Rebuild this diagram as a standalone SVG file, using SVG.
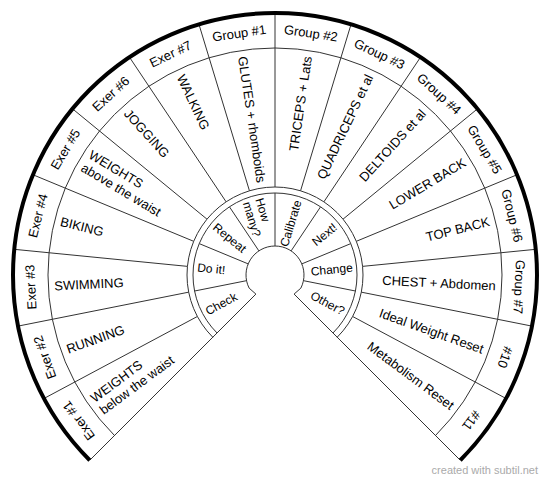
<svg xmlns="http://www.w3.org/2000/svg" width="550" height="482" viewBox="0 0 550 482">
<style>
.ln{stroke:#333;stroke-width:1;fill:none}
.rim{stroke:#000;stroke-width:4;fill:none}
text{font-family:"Liberation Sans",Arial,sans-serif;font-size:13px;fill:#000}
.ti{font-size:12px}
.o{text-anchor:middle}
.s{text-anchor:start}
.e{text-anchor:end}
.credit{font-size:11px;fill:#aaa;text-anchor:end}
</style>
<rect width="550" height="482" fill="#fff"/>
<g id="structure">
<path class="ln" d="M114.49 435.51 A227 227 0 1 1 435.51 435.51"/>
<path class="ln" d="M212.77 337.23 A88 88 0 1 1 337.23 337.23"/>
<path class="ln" d="M217.02 332.98 A82 82 0 1 1 332.98 332.98"/>
<path class="ln" d="M255.91 294.09 L249.16 288.17 A29 29 0 1 1 300.84 288.17 L294.09 294.09"/>
<path class="ln" d="M255.91 294.09 L89.74 460.26 M294.09 294.09 L460.26 460.26"/>
<g id="main-dividers">
<path class="ln" d="M275 187 L275 13"/>
<path class="ln" d="M300.55 190.79 L351.05 24.28 M249.45 190.79 L198.95 24.28"/>
<path class="ln" d="M323.89 201.83 L420.56 57.15 M226.11 201.83 L129.44 57.15"/>
<path class="ln" d="M343.02 219.17 L477.53 108.79 M206.98 219.17 L72.47 108.79"/>
<path class="ln" d="M356.30 241.32 L517.06 174.74 M193.70 241.32 L32.94 174.74"/>
<path class="ln" d="M362.58 266.37 L535.74 249.32 M187.42 266.37 L14.26 249.32"/>
<path class="ln" d="M361.31 292.17 L531.97 326.11 M188.69 292.17 L18.03 326.11"/>
<path class="ln" d="M352.61 316.48 L506.06 398.51 M197.39 316.48 L43.94 398.51"/>
</g>
<g id="inner-dividers">
<path class="ln" d="M275 246 L275 193"/>
<path class="ln" d="M291.11 250.89 L320.56 206.82 M258.89 250.89 L229.44 206.82"/>
<path class="ln" d="M301.79 263.90 L350.76 243.62 M248.21 263.90 L199.24 243.62"/>
<path class="ln" d="M303.44 280.66 L355.42 291.00 M246.56 280.66 L194.58 291.00"/>
</g>
<path class="rim" d="M89.74 460.26 A262 262 0 1 1 460.26 460.26"/>
</g>
<g id="outer-labels">
<g id="exer1"><text class="o" x="275" y="30.5" dy="0.35em" transform="rotate(-126.5625 275 275)">Exer #1</text></g>
<g id="exer2"><text class="o" x="275" y="30.5" dy="0.35em" transform="rotate(-109.6875 275 275)">Exer #2</text></g>
<g id="exer3"><text class="o" x="275" y="30.5" dy="0.35em" transform="rotate(-92.8125 275 275)">Exer #3</text></g>
<g id="exer4"><text class="o" x="275" y="30.5" dy="0.35em" transform="rotate(-75.9375 275 275)">Exer #4</text></g>
<g id="exer5"><text class="o" x="275" y="30.5" dy="0.35em" transform="rotate(-59.0625 275 275)">Exer #5</text></g>
<g id="exer6"><text class="o" x="275" y="30.5" dy="0.35em" transform="rotate(-42.1875 275 275)">Exer #6</text></g>
<g id="exer7"><text class="o" x="275" y="30.5" dy="0.35em" transform="rotate(-25.3125 275 275)">Exer #7</text></g>
<g id="group1"><text class="o" x="275" y="30.5" dy="0.35em" transform="rotate(-8.4375 275 275)">Group #1</text></g>
<g id="group2"><text class="o" x="275" y="30.5" dy="0.35em" transform="rotate(8.4375 275 275)">Group #2</text></g>
<g id="group3"><text class="o" x="275" y="30.5" dy="0.35em" transform="rotate(25.3125 275 275)">Group #3</text></g>
<g id="group4"><text class="o" x="275" y="30.5" dy="0.35em" transform="rotate(42.1875 275 275)">Group #4</text></g>
<g id="group5"><text class="o" x="275" y="30.5" dy="0.35em" transform="rotate(59.0625 275 275)">Group #5</text></g>
<g id="group6"><text class="o" x="275" y="30.5" dy="0.35em" transform="rotate(75.9375 275 275)">Group #6</text></g>
<g id="group7"><text class="o" x="275" y="30.5" dy="0.35em" transform="rotate(92.8125 275 275)">Group #7</text></g>
<g id="num10"><text class="o" x="275" y="30.5" dy="0.35em" transform="rotate(109.6875 275 275)">#10</text></g>
<g id="num11"><text class="o" x="275" y="30.5" dy="0.35em" transform="rotate(126.5625 275 275)">#11</text></g>
</g>
<g id="main-labels">
<g id="weights-below"><text class="s" transform="rotate(-36.5625 275 275)"><tspan x="54" y="270.5">WEIGHTS</tspan><tspan x="54" y="285.5">below the waist</tspan></text></g>
<g id="running"><text class="s" x="54" y="275" dy="0.35em" transform="rotate(-19.6875 275 275)">RUNNING</text></g>
<g id="swimming"><text class="s" x="54" y="275" dy="0.35em" transform="rotate(-2.8125 275 275)">SWIMMING</text></g>
<g id="biking"><text class="s" x="54" y="275" dy="0.35em" transform="rotate(14.0625 275 275)">BIKING</text></g>
<g id="weights-above"><text class="s" transform="rotate(30.9375 275 275)"><tspan x="54" y="270.5">WEIGHTS</tspan><tspan x="54" y="285.5">above the waist</tspan></text></g>
<g id="jogging"><text class="s" x="54" y="275" dy="0.35em" transform="rotate(47.8125 275 275)">JOGGING</text></g>
<g id="walking"><text class="s" x="54" y="275" dy="0.35em" transform="rotate(64.6875 275 275)">WALKING</text></g>
<g id="glutes"><text class="s" x="54" y="275" dy="0.35em" transform="rotate(81.5625 275 275)">GLUTES + rhomboids</text></g>
<g id="triceps"><text class="e" x="496" y="275" dy="0.35em" transform="rotate(-81.5625 275 275)">TRICEPS + Lats</text></g>
<g id="quadriceps"><text class="e" x="496" y="275" dy="0.35em" transform="rotate(-64.6875 275 275)">QUADRICEPS et al</text></g>
<g id="deltoids"><text class="e" x="496" y="275" dy="0.35em" transform="rotate(-47.8125 275 275)">DELTOIDS et al</text></g>
<g id="lower-back"><text class="e" x="496" y="275" dy="0.35em" transform="rotate(-30.9375 275 275)">LOWER BACK</text></g>
<g id="top-back"><text class="e" x="496" y="275" dy="0.35em" transform="rotate(-14.0625 275 275)">TOP BACK</text></g>
<g id="chest"><text class="e" x="496" y="275" dy="0.35em" transform="rotate(2.8125 275 275)">CHEST + Abdomen</text></g>
<g id="ideal-weight"><text class="e" x="496" y="275" dy="0.35em" transform="rotate(19.6875 275 275)">Ideal Weight Reset</text></g>
<g id="metabolism"><text class="e" x="496" y="275" dy="0.35em" transform="rotate(36.5625 275 275)">Metabolism Reset</text></g>
</g>
<g id="inner-labels">
<g id="check"><text class="s ti" x="197" y="275" dy="0.35em" transform="rotate(-28.125 275 275)">Check</text></g>
<g id="doit"><text class="s ti" x="197" y="275" dy="0.35em" transform="rotate(5.625 275 275)">Do it!</text></g>
<g id="repeat"><text class="s ti" x="197" y="275" dy="0.35em" transform="rotate(39.375 275 275)">Repeat</text></g>
<g id="howmany"><text class="s ti" transform="rotate(73.125 275 275)"><tspan x="197" y="272">How</tspan><tspan x="197" y="285">many?</tspan></text></g>
<g id="calibrate"><text class="e ti" x="353" y="275" dy="0.35em" transform="rotate(-73.125 275 275)">Calibrate</text></g>
<g id="next"><text class="e ti" x="353" y="275" dy="0.35em" transform="rotate(-39.375 275 275)">Next!</text></g>
<g id="change"><text class="e ti" x="353" y="275" dy="0.35em" transform="rotate(-5.625 275 275)">Change</text></g>
<g id="other"><text class="e ti" x="353" y="275" dy="0.35em" transform="rotate(28.125 275 275)">Other?</text></g>
</g>
<text class="credit" x="538" y="474">created with subtil.net</text>
</svg>
